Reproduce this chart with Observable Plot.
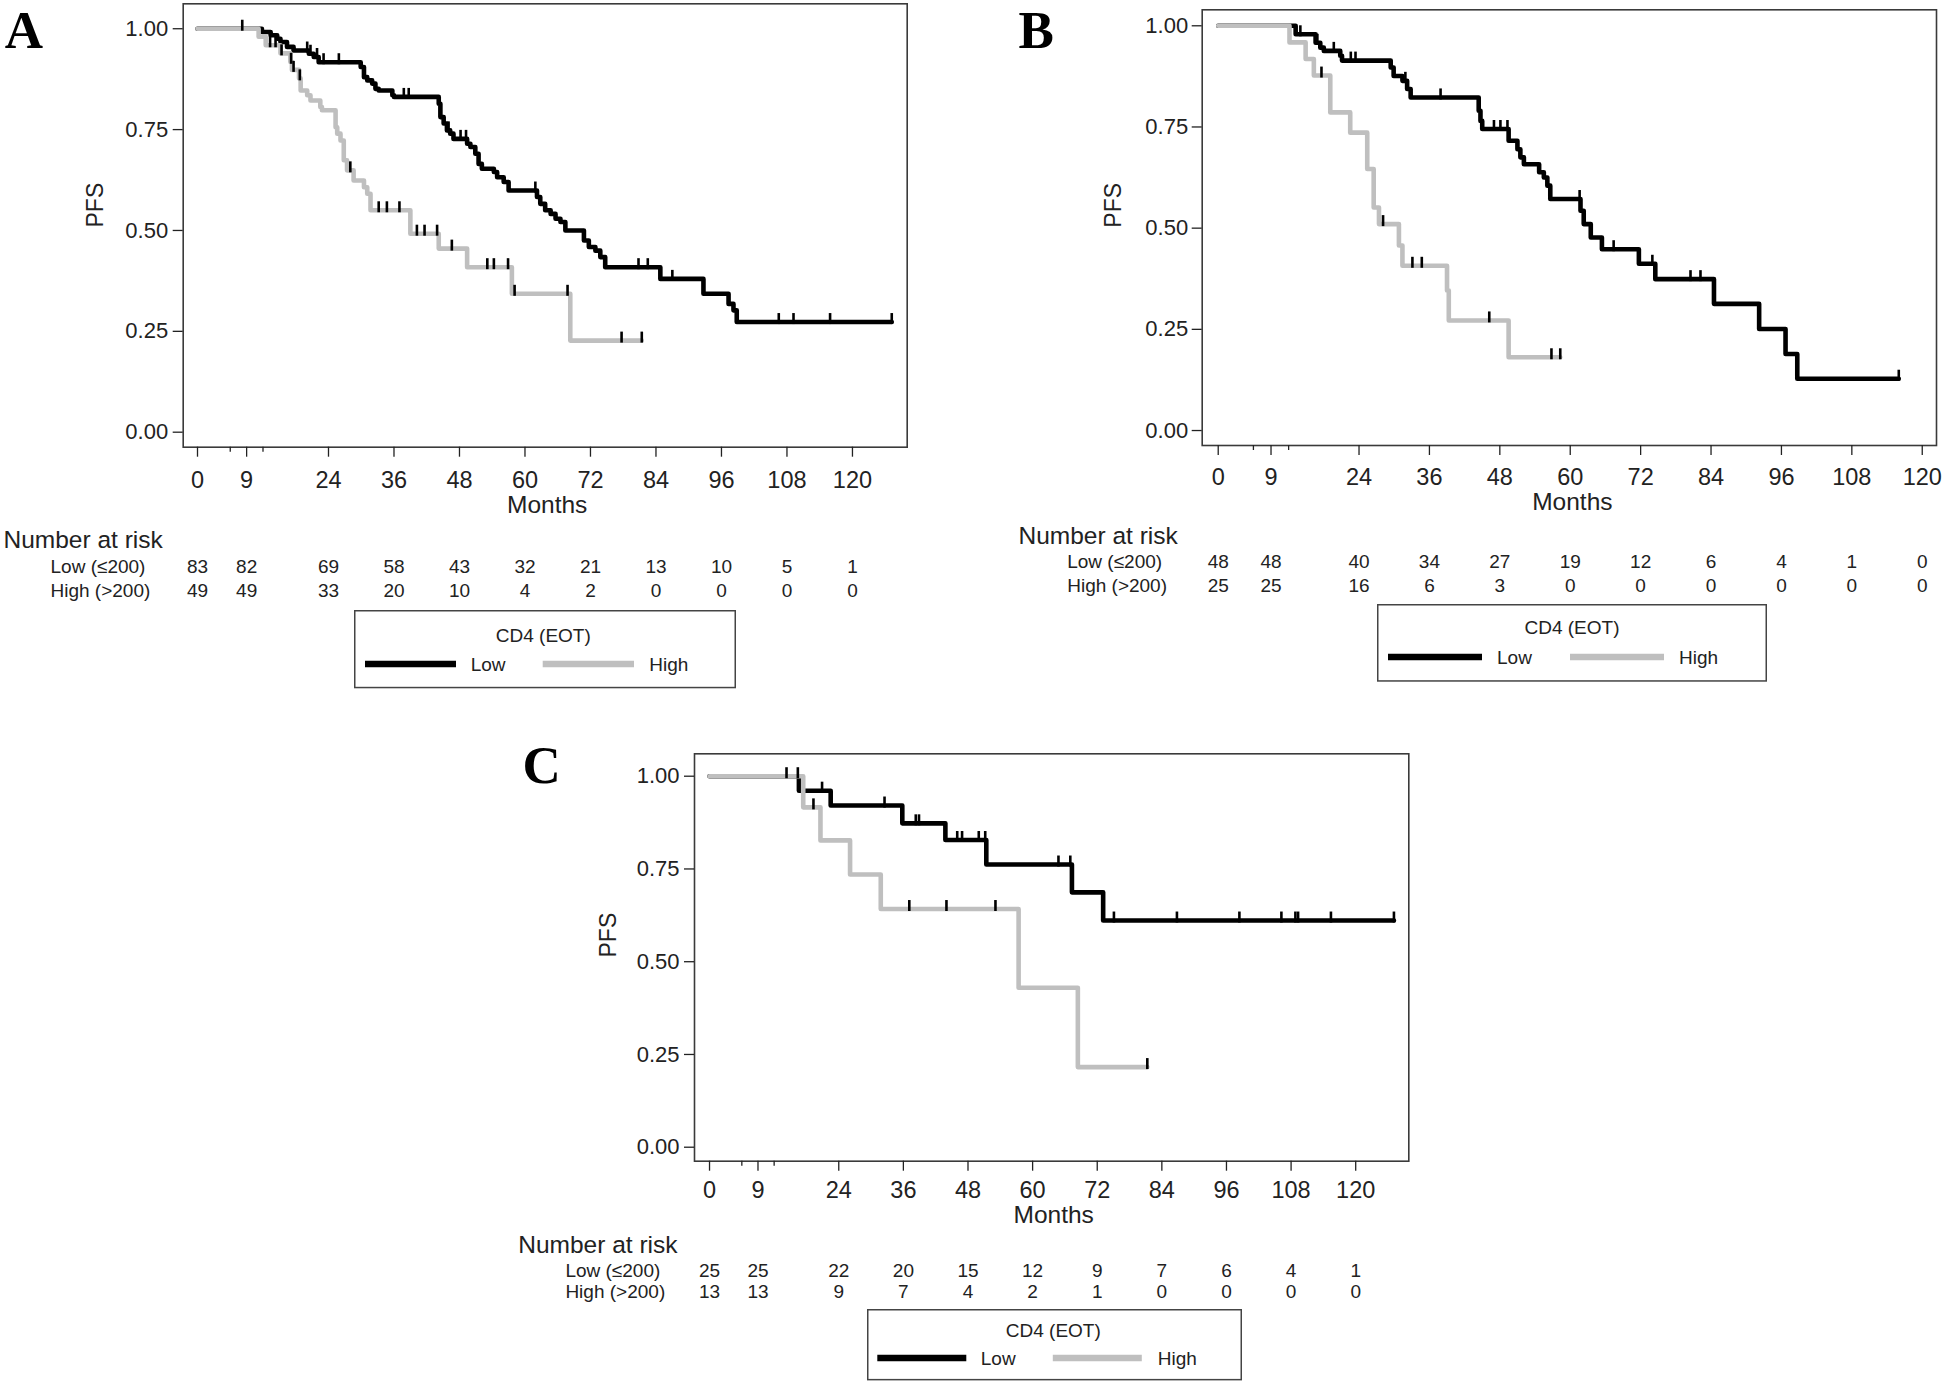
<!DOCTYPE html>
<html><head><meta charset="utf-8">
<script src="https://cdn.jsdelivr.net/npm/d3@7"></script>
<script src="https://cdn.jsdelivr.net/npm/@observablehq/plot@0.6"></script>
<style>
body{margin:0;background:#fff;}
#root{position:relative;width:1946px;height:1387px;overflow:hidden;background:#fff;font-family:"Liberation Sans",Arial,sans-serif;}
.box{position:absolute;}
.box svg{overflow:visible;max-width:none;}
</style></head><body><div id="root"></div>
<script>
// ---------- shared ----------
const riskTimes = [0, 9, 24, 36, 48, 60, 72, 84, 96, 108, 120];
const xMinorTicks = [6, 12];
const yTicks = [0, 0.25, 0.5, 0.75, 1];
const groups = ["Low", "High"];
const rowLabels = ["Low (\u2264200)", "High (>200)"];
const legendTitle = "CD4 (EOT)";
const panelLetters = ["A", "B", "C"];

// ---------- Panel A ----------
const aLowTime = [11.8,13.4,14.6,15.2,16.4,17.6,20.4,21.3,22.2,29.9,30.5,31.1,32.0,32.6,33.2,35.7,36.0,44.2,44.5,45.1,45.7,46.3,46.9,49.4,50.0,50.9,51.5,52.1,54.3,54.9,56.1,57.0,62.2,62.8,63.7,64.7,65.6,66.5,67.4,70.8,71.7,72.9,73.8,74.7,84.8,92.7,97.3,98.2,98.8];
const aLowSurv = [0.992,0.984,0.975,0.967,0.955,0.946,0.938,0.930,0.917,0.905,0.880,0.872,0.864,0.851,0.847,0.835,0.831,0.814,0.781,0.765,0.748,0.740,0.727,0.715,0.707,0.690,0.665,0.653,0.645,0.632,0.620,0.599,0.583,0.566,0.550,0.541,0.529,0.521,0.500,0.475,0.459,0.450,0.434,0.409,0.380,0.343,0.318,0.302,0.273];
const aLowEnd = 127.2;
const aLowCensor = [8.2,20.1,20.7,21.9,23.1,25.9,37.8,38.7,46.0,48.2,49.2,61.9,80.8,82.5,87.0,106.5,109.2,115.9,127.2];
const aHighTime = [11.2,12.5,15.2,17.0,17.3,18.6,18.9,20.1,20.7,22.5,22.8,25.3,25.6,26.2,26.8,27.4,28.6,30.5,31.1,31.7,39.0,44.2,49.4,57.6,68.3];
const aHighSurv = [0.980,0.959,0.939,0.918,0.898,0.877,0.847,0.835,0.822,0.806,0.798,0.756,0.740,0.723,0.674,0.649,0.624,0.607,0.591,0.550,0.492,0.455,0.409,0.343,0.227];
const aHighEnd = 81.4;
const aHighCensor = [13.3,14.3,15.4,17.15,17.6,18.75,28.0,33.2,34.7,37.0,40.2,41.6,43.9,46.6,53.1,54.3,56.9,58.1,67.8,77.7,81.4];
const aLowRisk = [83,82,69,58,43,32,21,13,10,5,1];
const aHighRisk = [49,49,33,20,10,4,2,0,0,0,0];

// ---------- Panel B ----------
const bLowTime = [13.2,16.6,17.4,18.0,20.8,21.1,29.4,29.9,31.4,32.2,32.8,44.4,44.7,45.0,49.5,51.0,51.5,52.1,54.7,55.5,56.1,56.6,61.75,62.3,63.5,65.4,71.7,74.5,84.5,92.2,96.7,98.7];
const bLowSurv = [0.979,0.958,0.946,0.938,0.926,0.914,0.897,0.876,0.864,0.844,0.823,0.790,0.765,0.745,0.716,0.695,0.675,0.658,0.638,0.625,0.605,0.572,0.543,0.510,0.477,0.448,0.412,0.374,0.313,0.251,0.189,0.128];
const bLowEnd = 116.0;
const bLowCensor = [14.0,16.9,19.7,22.6,23.4,31.9,37.9,47.0,48.1,49.3,61.6,67.4,74.0,80.5,82.2,116.0];
const bHighTime = [12.15,14.9,16.3,19.1,22.5,25.4,26.5,27.4,30.8,31.4,39.0,39.3,49.5];
const bHighSurv = [0.959,0.918,0.877,0.786,0.736,0.646,0.551,0.510,0.457,0.407,0.346,0.272,0.181];
const bHighEnd = 58.3;
const bHighCensor = [17.6,28.1,33.1,34.7,46.2,56.8,58.3];
const bLowRisk = [48,48,40,34,27,19,12,6,4,1,0];
const bHighRisk = [25,25,16,6,3,0,0,0,0,0,0];

// ---------- Panel C ----------
const cLowTime = [16.6,22.5,35.8,43.8,51.4,67.3,73.1];
const cLowSurv = [0.961,0.921,0.873,0.828,0.762,0.687,0.611];
const cLowEnd = 127.1;
const cLowCensor = [14.3,16.4,20.9,32.5,38.3,38.9,46.0,46.9,50.0,51.2,64.8,67.0,75.1,86.8,98.4,106.2,108.8,109.3,115.4,127.1];
const cHighTime = [17.4,20.6,26.1,31.8,57.4,68.4];
const cHighSurv = [0.916,0.827,0.735,0.642,0.430,0.216];
const cHighEnd = 81.3;
const cHighCensor = [19.3,37.1,44.0,53.1,81.3];
const cLowRisk = [25,25,22,20,15,12,9,7,6,4,1];
const cHighRisk = [13,13,9,7,4,2,1,0,0,0,0];

// ---------- layout (positions/styles only) ----------
const layouts = [
  {main:{left:0,top:0,width:920,height:520,ml:182.7,mt:3.3,mr:13.3,mb:73.3},
   xDomain:[-2.62,130.03], yDomain:[-0.0372,1.0618], yPad:5, xPad:14.5,
   letter:{dx:-178.5,dy:44}, pfs:{dx:-87.7,dy:2}, months:{dx:2,dy:58.3},
   table:{left:0,top:525,width:920,height:80,hdx:-179.7,hdy:15,rowDx:-132.7,rows:[40.3,65]},
   legend:{x:354,y:609.7,w:382,h:78.3,tx:189.3,ty:25,ly:54,lines:[[11,102,116.7],[188.7,280,295.3]]}},
  {main:{left:1000,top:0,width:946,height:520,ml:201.7,mt:9.3,mr:10,mb:75},
   xDomain:[-2.73,122.43], yDomain:[-0.037,1.0395], yPad:4, xPad:13,
   letter:{dx:-183.7,dy:37.7}, pfs:{dx:-88.7,dy:0}, months:{dx:3,dy:56.7},
   table:{left:1000,top:520,width:946,height:80,hdx:-183.7,hdy:16,rowDx:-135,rows:[41,65.8]},
   legend:{x:1377,y:604,w:390,h:77.7,tx:195,ty:23,ly:53,lines:[[11,105,120],[193,287,302]]}},
  {main:{left:500,top:730,width:920,height:510,ml:194,mt:23.3,mr:11.7,mb:79.3},
   xDomain:[-2.79,129.86], yDomain:[-0.0377,1.0604], yPad:5, xPad:10.2,
   letter:{dx:-172,dy:28.7}, pfs:{dx:-86,dy:0}, months:{dx:2,dy:54},
   table:{left:500,top:1230,width:920,height:75,hdx:-176.3,hdy:15,rowDx:-129.1,rows:[39.3,60.7]},
   legend:{x:866.7,y:1309.3,w:375,h:71.4,tx:186.3,ty:21,ly:49,lines:[[10.3,99.3,113.8],[185.8,274.8,290.8]]}}
];

const series = [
  {low:[aLowTime,aLowSurv,aLowEnd,aLowCensor], high:[aHighTime,aHighSurv,aHighEnd,aHighCensor], risk:[aLowRisk,aHighRisk]},
  {low:[bLowTime,bLowSurv,bLowEnd,bLowCensor], high:[bHighTime,bHighSurv,bHighEnd,bHighCensor], risk:[bLowRisk,bHighRisk]},
  {low:[cLowTime,cLowSurv,cLowEnd,cLowCensor], high:[cHighTime,cHighSurv,cHighEnd,cHighCensor], risk:[cLowRisk,cHighRisk]}
];

const colors = {Low:"#000000", High:"#bfbfbf"};
const FONT = "'Liberation Sans', Arial, sans-serif";
const root = document.getElementById("root");

function stepPoints(times, surv, end) {
  const pts = [{t:0, s:1}];
  times.forEach((t,i) => pts.push({t, s:surv[i]}));
  pts.push({t:end, s:surv[surv.length-1]});
  return pts;
}
function survAt(times, surv, t) {
  let s = 1;
  for (let i = 0; i < times.length; i++) if (times[i] <= t) s = surv[i];
  return s;
}
const censorSymbol = {draw(context) { context.moveTo(0, 2); context.lineTo(0, -9); }};

function place(el, left, top, width, height) {
  const d = document.createElement("div");
  d.className = "box";
  d.style.left = left + "px"; d.style.top = top + "px";
  d.style.width = width + "px"; d.style.height = height + "px";
  d.appendChild(el);
  root.appendChild(d);
}

layouts.forEach((L, i) => {
  const S = series[i];
  const [lt, ls, le, lc] = S.low;
  const [ht, hs, he, hc] = S.high;
  const lowPts = stepPoints(lt, ls, le);
  const highPts = stepPoints(ht, hs, he);
  const censors = [
    ...lc.map(t => ({t, s: survAt(lt, ls, t)})),
    ...hc.map(t => ({t, s: survAt(ht, hs, t)}))
  ];
  const m = L.main;
  const chart = Plot.plot({
    width: m.width, height: m.height,
    marginLeft: m.ml, marginTop: m.mt, marginRight: m.mr, marginBottom: m.mb,
    style: {fontFamily: FONT, background: "transparent", overflow: "visible"},
    x: {domain: L.xDomain, label: null},
    y: {domain: L.yDomain, label: null},
    marks: [
      Plot.frame({stroke: "#3a3a3a", strokeWidth: 1.6}),
      Plot.axisY({ticks: yTicks, tickSize: 10, tickPadding: L.yPad, tickFormat: d3.format(".2f"), fontSize: 22, fill: "#222", stroke: "#222", strokeWidth: 1.3}),
      Plot.axisX({ticks: riskTimes, tickSize: 10, tickPadding: L.xPad, tickFormat: d => String(d), fontSize: 23.5, fill: "#222", stroke: "#222", strokeWidth: 1.3}),
      Plot.axisX({ticks: xMinorTicks, tickSize: 5, tickFormat: () => "", stroke: "#222", strokeWidth: 1.3}),
      Plot.line(lowPts, {x: "t", y: "s", curve: "step-after", stroke: colors.Low, strokeWidth: 4.6}),
      Plot.line(highPts, {x: "t", y: "s", curve: "step-after", stroke: colors.High, strokeWidth: 4.6}),
      Plot.dot(censors, {x: "t", y: "s", symbol: censorSymbol, fill: "none", stroke: "#000", strokeWidth: 2.6, r: 4}),
      Plot.text([panelLetters[i]], {frameAnchor: "top-left", dx: L.letter.dx, dy: L.letter.dy, lineAnchor: "bottom", textAnchor: "start", fontFamily: "'Liberation Serif', 'Times New Roman', serif", fontWeight: "bold", fontSize: 53, fill: "#000"}),
      Plot.text(["PFS"], {frameAnchor: "left", dx: L.pfs.dx, dy: L.pfs.dy, rotate: -90, fontSize: 23, fill: "#222"}),
      Plot.text(["Months"], {frameAnchor: "bottom", dx: L.months.dx, dy: L.months.dy, lineAnchor: "middle", fontSize: 24.5, fill: "#222"})
    ]
  });
  place(chart, m.left, m.top, m.width, m.height);

  // number-at-risk table
  const T = L.table;
  const tableData = [];
  rowLabels.forEach((row, r) => riskTimes.forEach((t, k) => tableData.push({t, row, n: S.risk[r][k]})));
  const table = Plot.plot({
    width: T.width, height: T.height,
    marginLeft: m.ml, marginRight: m.mr, marginTop: 0, marginBottom: 0,
    style: {fontFamily: FONT, background: "transparent", overflow: "visible"},
    x: {domain: L.xDomain, axis: null},
    y: {type: "point", domain: rowLabels, range: T.rows, padding: 0, axis: null},
    marks: [
      Plot.text(["Number at risk"], {frameAnchor: "top-left", dx: T.hdx, dy: T.hdy, lineAnchor: "middle", textAnchor: "start", fontSize: 24.5, fill: "#222"}),
      Plot.text(rowLabels, {y: d => d, frameAnchor: "left", dx: T.rowDx, textAnchor: "start", lineAnchor: "middle", fontSize: 19, fill: "#222"}),
      Plot.text(tableData, {x: "t", y: "row", text: "n", lineAnchor: "middle", fontSize: 19, fill: "#222"})
    ]
  });
  place(table, T.left, T.top, T.width, T.height);

  // legend
  const G = L.legend;
  const svg = d3.create("svg").attr("width", G.w).attr("height", G.h).style("overflow", "visible").style("font-family", FONT);
  svg.append("rect").attr("x", 0.75).attr("y", 0.75).attr("width", G.w - 1.5).attr("height", G.h - 1.5).attr("fill", "#fff").attr("stroke", "#444").attr("stroke-width", 1.5);
  svg.append("text").attr("x", G.tx).attr("y", G.ty).attr("dy", "0.35em").attr("text-anchor", "middle").attr("font-size", 19).attr("fill", "#222").text(legendTitle);
  groups.forEach((g, k) => {
    const [x1, x2, tx] = G.lines[k];
    svg.append("line").attr("x1", x1).attr("x2", x2).attr("y1", G.ly).attr("y2", G.ly).attr("stroke", colors[g]).attr("stroke-width", 6.3);
    svg.append("text").attr("x", tx).attr("y", G.ly).attr("dy", "0.35em").attr("font-size", 19).attr("fill", "#222").text(g);
  });
  place(svg.node(), G.x, G.y, G.w, G.h);
});
</script></body></html>
